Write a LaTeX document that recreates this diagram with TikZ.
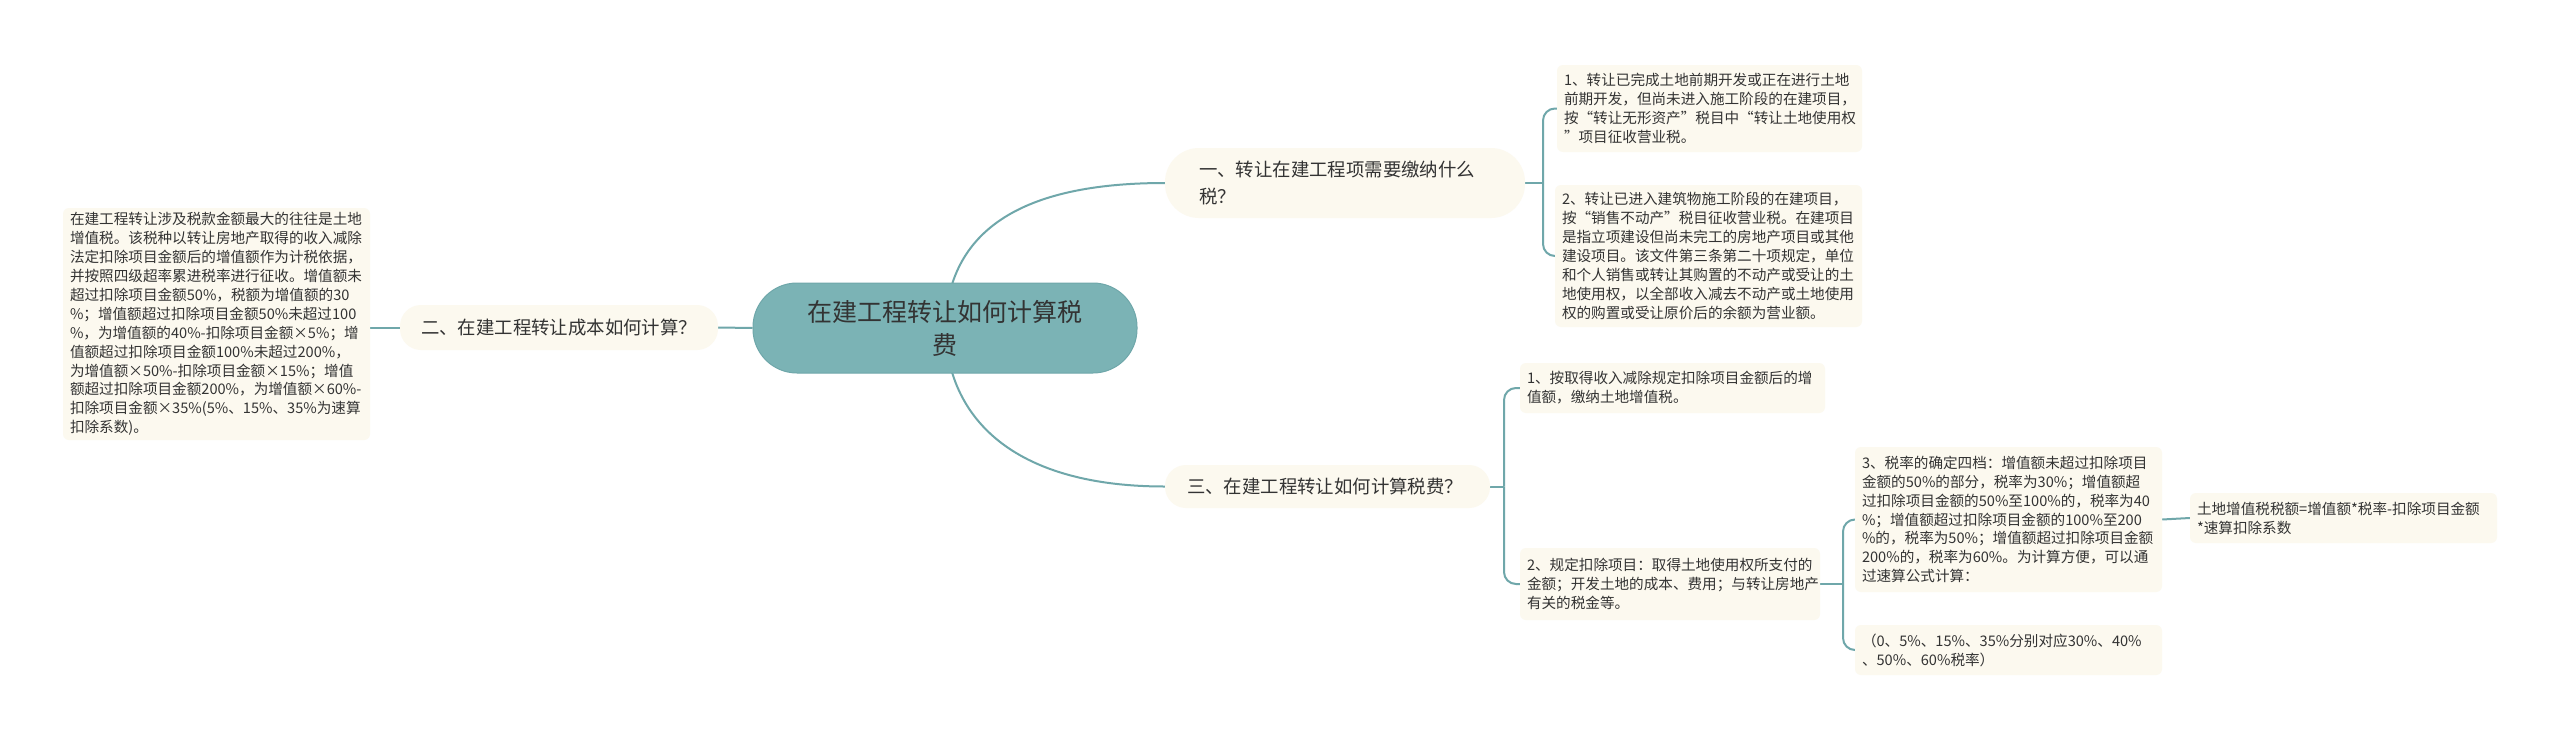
\documentclass[tikz,border=0pt]{standalone}
\usepackage{fontspec}
\setmainfont{Noto Sans CJK SC}
\usepackage{tikz}
\usetikzlibrary{positioning,backgrounds}
\usepackage{xcolor}
\definecolor{hub}{HTML}{7BB3B5}
\definecolor{hubrim}{HTML}{6FA7AA}
\definecolor{wirec}{HTML}{6FA7AA}
\definecolor{cream}{HTML}{FCF9EF}
\definecolor{ink}{HTML}{333333}

\tikzset{
  hubbox/.style={fill=hub,draw=hubrim,line width=1pt,rounded corners=44pt,align=center,text=ink,
    minimum width=384pt,minimum height=90pt,font=\fontsize{25}{33}\selectfont},
  topic/.style={fill=cream,rounded corners=21pt,align=left,text=ink,inner ysep=2pt,
    font=\fontsize{18.4}{26.5}\selectfont},
  leaf/.style={fill=cream,rounded corners=6pt,align=left,text=ink,inner xsep=7pt,inner ysep=2pt,
    font=\fontsize{14.6}{18.9}\selectfont},
  link/.style={draw=wirec,line width=2pt},
}

\begin{document}
\begin{tikzpicture}[x=1pt,y=-1pt]
  \useasboundingbox (0,0) rectangle (2560,739);

  % centre and first level
  \node[hubbox] (hub) at (945,328) {在建工程转让如何计算税\\费};
  \node[topic,rounded corners=34pt,minimum width=360pt,minimum height=70pt,text width=292pt,inner xsep=34pt]
    (q1) at (1345,183) {一、转让在建工程项需要缴纳什么\\税？};
  \node[topic,minimum width=318pt,minimum height=45pt,text width=276pt,inner xsep=21pt]
    (q2) at (559,327.5) {二、在建工程转让成本如何计算？};
  \node[topic,minimum width=325pt,minimum height=43pt,text width=281pt,inner xsep=22pt]
    (q3) at (1327.5,486.5) {三、在建工程转让如何计算税费？};

  % leaves
  \node[leaf,minimum height=232pt,text width=293pt] (l0) at (216.5,324) {在建工程转让涉及税款金额最大的往往是土地\\增值税。该税种以转让房地产取得的收入减除\\法定扣除项目金额后的增值额作为计税依据，\\并按照四级超率累进税率进行征收。增值额未\\超过扣除项目金额50\%，税额为增值额的30\\\%；增值额超过扣除项目金额50\%未超过100\\\%，为增值额的40\%-扣除项目金额×5\%；增\\值额超过扣除项目金额100\%未超过200\%，\\为增值额×50\%-扣除项目金额×15\%；增值\\额超过扣除项目金额200\%，为增值额×60\%-\\扣除项目金额×35\%(5\%、15\%、35\%为速算\\扣除系数)。};
  \node[leaf,minimum height=87pt,text width=291pt] (a1) at (1709.5,108.5) {1、转让已完成土地前期开发或正在进行土地\\前期开发，但尚未进入施工阶段的在建项目，\\按“转让无形资产”税目中“转让土地使用权\\”项目征收营业税。};
  \node[leaf,minimum height=142pt,text width=293pt] (a2) at (1708.5,256) {2、转让已进入建筑物施工阶段的在建项目，\\按“销售不动产”税目征收营业税。在建项目\\是指立项建设但尚未完工的房地产项目或其他\\建设项目。该文件第三条第二十项规定，单位\\和个人销售或转让其购置的不动产或受让的土\\地使用权，以全部收入减去不动产或土地使用\\权的购置或受让原价后的余额为营业额。};
  \node[leaf,minimum height=50pt,text width=291pt] (c1) at (1672.5,388) {1、按取得收入减除规定扣除项目金额后的增\\值额，缴纳土地增值税。};
  \node[leaf,minimum height=72pt,text width=286pt] (c2) at (1670,584) {2、规定扣除项目：取得土地使用权所支付的\\金额；开发土地的成本、费用；与转让房地产\\有关的税金等。};
  \node[leaf,minimum height=145pt,text width=293pt] (c3) at (2008.5,519.5) {3、税率的确定四档：增值额未超过扣除项目\\金额的50\%的部分，税率为30\%；增值额超\\过扣除项目金额的50\%至100\%的，税率为40\\\%；增值额超过扣除项目金额的100\%至200\\\%的，税率为50\%；增值额超过扣除项目金额\\200\%的，税率为60\%。为计算方便，可以通\\过速算公式计算：};
  \node[leaf,minimum height=50pt,text width=293pt] (c4) at (2008.5,650) {（0、5\%、15\%、35\%分别对应30\%、40\%\\、50\%、60\%税率）};
  \node[leaf,minimum height=50pt,text width=293pt] (c5) at (2343.5,518) {土地增值税税额=增值额*税率-扣除项目金额\\{}*速算扣除系数};

  % forks
  \coordinate (f1) at (1543,183);
  \coordinate (f3) at (1504,486.5);
  \coordinate (f4) at (1843,584);

  % connectors
  \begin{scope}[on background layer]
    \fill[white] (0,0) rectangle (2560,739);
    \draw[link] (hub.center) .. controls (948,231) and (1020,183) .. (q1.west);
    \draw[link] (hub.center) .. controls (948,424) and (1020,486.5) .. (q3.west);
    \draw[link] (hub.west) -- (q2.east);
    \draw[link] (q2.west) -- (q2.west -| l0.east);
    \draw[link] (q1.east) -- (f1);
    \draw[link] (q3.east) -- (f3);
    \draw[link] (c2.east) -- (f4);
    \draw[link] (c3.east) -- (c5.west);
    \foreach \c in {a1,a2} {
      \draw[link,rounded corners=12pt] (f1) |- (\c.west);
    }
    \foreach \c in {c1,c2} {
      \draw[link,rounded corners=12pt] (f3) |- (\c.west);
    }
    \foreach \c in {c3,c4} {
      \draw[link,rounded corners=12pt] (f4) |- (\c.west);
    }
  \end{scope}
\end{tikzpicture}
\end{document}
